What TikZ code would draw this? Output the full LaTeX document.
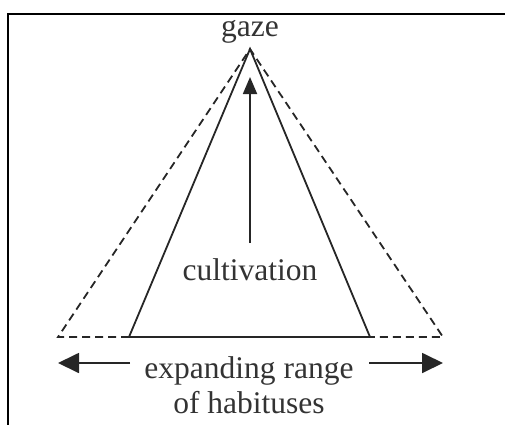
\documentclass[tikz,border=0pt]{standalone}
\usepackage{fontspec}
\setmainfont{Liberation Serif}
\usetikzlibrary{arrows.meta}
\begin{document}
\begin{tikzpicture}[x=1pt,y=1pt,
  lbl/.style={font=\fontsize{31.5}{34}\selectfont, text=black!80, inner sep=0pt, anchor=base},
  solidline/.style={line width=1.8pt, black!85},
  dashline/.style={line width=1.8pt, black!85, dash pattern=on 8pt off 5pt},
  bigarrow/.style={line width=1.8pt, black!85, -{Triangle[length=21pt,width=20pt]}},
  uparrow/.style={line width=1.8pt, black!85, -{Triangle[length=17pt,width=14pt]}}]
\useasboundingbox (0,0) rectangle (505,424);
\begin{scope}
\clip (0,0) rectangle (505,424);
\draw[line width=2pt] (7.7,-10) |- (520,410.3);
\end{scope}
% coordinates
\coordinate (apex) at (250,375);
\coordinate (sl) at (129,87);
\coordinate (sr) at (370,87);
\coordinate (dl) at (58,87);
\coordinate (dr) at (443,87);
% triangles
\draw[solidline, line join=miter] (sl) -- (apex) -- (sr) -- cycle;
\draw[dashline] (sl) -- (dl) -- (apex) -- (dr) -- (sr);
% labels
\node[lbl] (gaze) at (250,387) {gaze};
\node[lbl] (cult) at (250,144) {cultivation};
\node[lbl] (exp) at (249,46) {expanding range};
\node[lbl] (hab) at (249,11) {of habituses};
% arrows
\coordinate (uptip) at (250,347);
\draw[uparrow] (250,181) coordinate (upbase) -- (uptip);
\coordinate (ltip) at (58,61);
\coordinate (rtip) at (443,61);
\draw[bigarrow] (130,61) coordinate (lstart) -- (ltip);
\draw[bigarrow] (369,61) coordinate (rstart) -- (rtip);
\end{tikzpicture}
\end{document}
